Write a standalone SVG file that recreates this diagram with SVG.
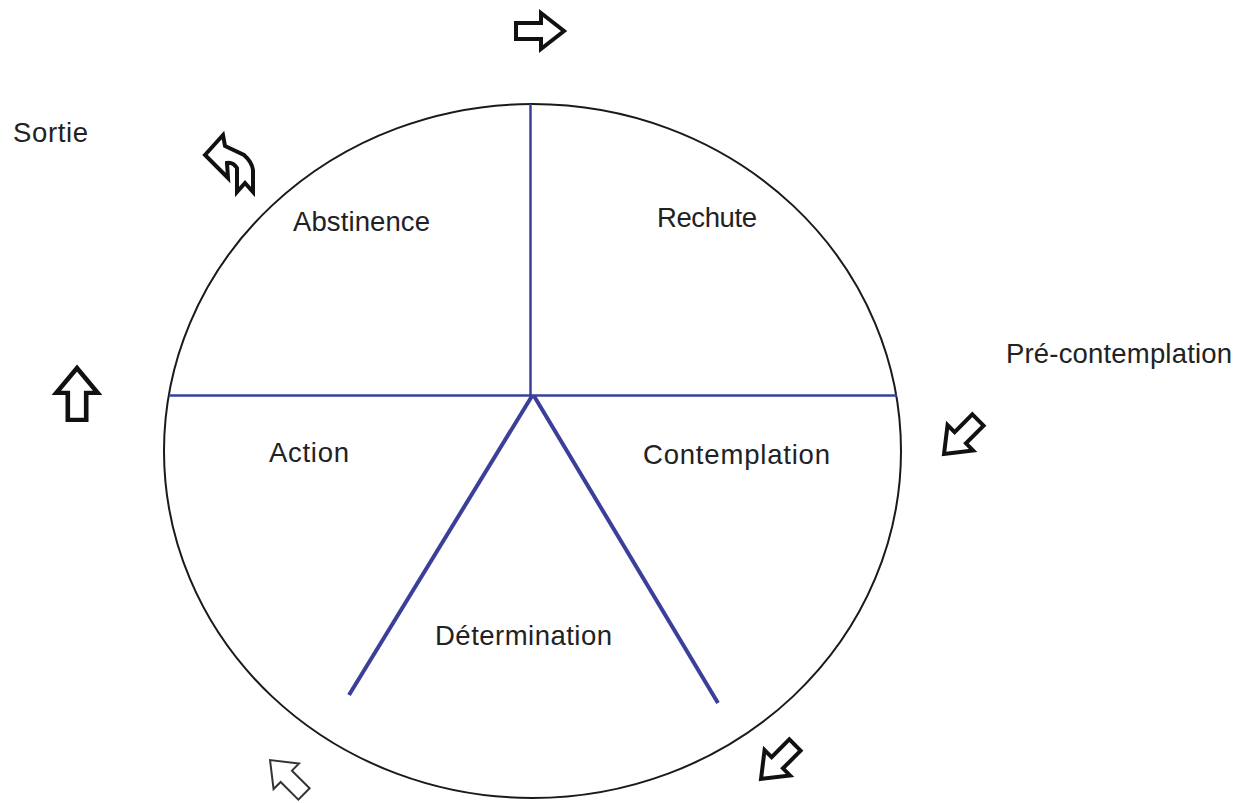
<svg xmlns="http://www.w3.org/2000/svg" width="1239" height="803" viewBox="0 0 1239 803">
  <defs>
    <style>
      .lbl { font-family: "Liberation Sans", Arial, sans-serif; font-size: 27.5px; fill: #222; }
      .rim { fill: none; stroke: #1a1a1a; stroke-width: 2; }
      .div { stroke: #3a3f9a; stroke-width: 2.5; stroke-linecap: butt; fill: none; }
      .div-thick { stroke: #3a3f9a; stroke-width: 4; stroke-linecap: butt; fill: none; }
      .arrow { fill: #fff; stroke: #111; stroke-width: 4; stroke-linejoin: miter; }
      .arrow-thin { fill: #fff; stroke: #333; stroke-width: 2; stroke-linejoin: miter; }
    </style>
    <!-- block arrow pointing +x, centred on the origin -->
    <polygon id="blockArrow" points="-24,-8 1,-8 1,-18 24,0 1,18 1,8 -24,8"/>
  </defs>

  <rect width="1239" height="803" fill="#fff"/>

  <!-- outer wheel -->
  <g id="wheel">
    <ellipse class="rim" cx="532.5" cy="451" rx="368.5" ry="347"/>
  </g>

  <!-- dividing spokes -->
  <g id="connectors">
    <line class="div" x1="530.5" y1="104" x2="530.5" y2="396"/>
    <line class="div" x1="169" y1="395.5" x2="897" y2="395.5"/>
    <line class="div-thick" x1="532" y1="396" x2="349" y2="695"/>
    <line class="div-thick" x1="534" y1="396" x2="718" y2="703"/>
  </g>

  <!-- stage labels -->
  <g id="abstinence"><text class="lbl" x="293" y="231" textLength="137">Abstinence</text></g>
  <g id="rechute"><text class="lbl" x="657" y="227" textLength="100">Rechute</text></g>
  <g id="action"><text class="lbl" x="269" y="462" textLength="80">Action</text></g>
  <g id="contemplation"><text class="lbl" x="643" y="464" textLength="187">Contemplation</text></g>
  <g id="determination"><text class="lbl" x="435" y="645" textLength="177">Détermination</text></g>
  <g id="sortie"><text class="lbl" x="13" y="142" textLength="75">Sortie</text></g>
  <g id="pre-contemplation"><text class="lbl" x="1006" y="363" textLength="226">Pré-contemplation</text></g>

  <!-- direction arrows around the wheel -->
  <g id="arrow-top"><use href="#blockArrow" class="arrow" transform="translate(540,31)"/></g>
  <g id="arrow-right"><use href="#blockArrow" class="arrow" transform="translate(961,437) rotate(135)"/></g>
  <g id="arrow-bottom-right"><use href="#blockArrow" class="arrow" transform="translate(778,762) rotate(135)"/></g>
  <g id="arrow-bottom-left"><use href="#blockArrow" class="arrow-thin" transform="translate(287,777) rotate(225)"/></g>
  <g id="arrow-left"><use href="#blockArrow" class="arrow" transform="translate(77,394) rotate(-90) scale(1.08,1.15)"/></g>
  <g id="arrow-exit">
    <path class="arrow" d="M205,155 L223,135 L225,146 L244,155 Q252,162 253,170 L253,192 L245,183 L237,192 L237,168 Q233,162 227,163 L228,178 Z"/>
  </g>
</svg>
